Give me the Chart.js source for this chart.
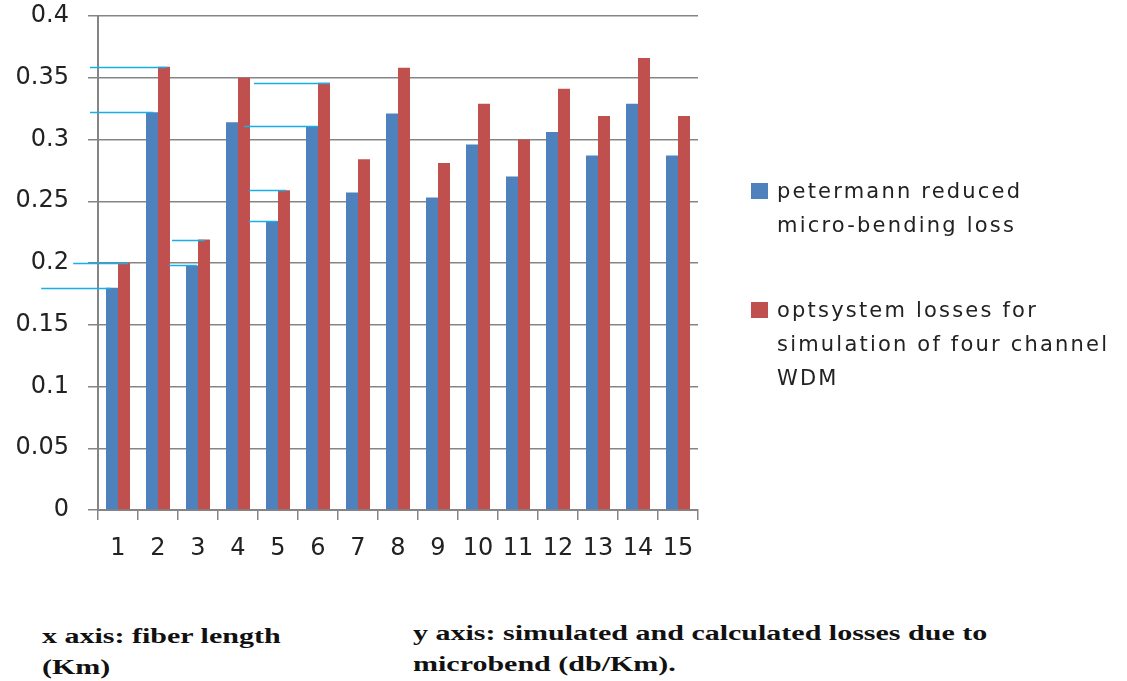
<!DOCTYPE html>
<html>
<head>
<meta charset="utf-8">
<script src="https://cdn.jsdelivr.net/npm/chart.js@4.4.1/dist/chart.umd.min.js"></script>
<style>
  html, body { margin: 0; padding: 0; background: #fff; }
  body { width: 1127px; height: 681px; position: relative; overflow: hidden; }
  #wrap { position: absolute; left: 0; top: 0; width: 1127px; height: 600px; }
  .legend { position: absolute; left: 751px; font-family: 'DejaVu Sans', sans-serif; font-size: 21px; color: #222; }
  .legend .box { position: absolute; left: 0; width: 17px; height: 16px; }
  .legend .txt { position: absolute; left: 26px; line-height: 34px; white-space: nowrap; letter-spacing: 2.2px; }
  .caption { position: absolute; font-family: 'Liberation Serif', 'Times New Roman', serif; font-weight: bold; font-size: 20px; line-height: 31px; color: #111; transform-origin: 0 0; transform: scaleX(1.5); white-space: nowrap; }
</style>
</head>
<body>
<div id="wrap"><canvas id="lossChart" width="1127" height="600"></canvas></div>
<div id="legend"></div>
<div class="caption" style="left:42px; top:621px;">x axis: fiber length<br>(Km)</div>
<div class="caption" style="left:413px; top:618px;">y axis: simulated and calculated losses due to<br>microbend (db/Km).</div>
<script>
// fiber length (Km)
const lengths = ['1', '2', '3', '4', '5', '6', '7', '8', '9', '10', '11', '12', '13', '14', '15'];
// petermann reduced micro-bending loss
const petermann = [0.18, 0.322, 0.198, 0.314, 0.234, 0.311, 0.257, 0.321, 0.253, 0.296, 0.27, 0.306, 0.287, 0.329, 0.287];
// optsystem losses
const optsystem = [0.2, 0.359, 0.219, 0.35, 0.259, 0.346, 0.284, 0.358, 0.281, 0.329, 0.3, 0.341, 0.319, 0.366, 0.319];
const seriesNames = [
  ['petermann reduced', 'micro-bending loss'],
  ['optsystem losses for', 'simulation of four channel', 'WDM']
];
const seriesColors = ['#4F81BD', '#C0504D'];
const yTicks = [0, 0.05, 0.1, 0.15, 0.2, 0.25, 0.3, 0.35, 0.4];
// hand drawn cyan guide lines: [value, from category index, to category index]
const guideLines = [
  [0.18, -1.92, -0.18], [0.2, -1.12, 0.25], [0.198, 1.27, 1.97], [0.219, 1.35, 2.17],
  [0.322, -0.7, 0.88], [0.359, -0.7, 1.22], [0.259, 3.27, 4.2], [0.234, 3.27, 3.97],
  [0.311, 3.15, 5.0], [0.346, 3.4, 5.3]
];

const guidePlugin = {
  id: 'guides',
  afterDatasetsDraw(chart) {
    const { ctx, scales: { x, y } } = chart;
    ctx.save();
    ctx.strokeStyle = '#1AAEE8';
    ctx.lineWidth = 1.5;
    guideLines.forEach(([v, a, b]) => {
      const py = Math.round(y.getPixelForValue(v)) + 0.5;
      ctx.beginPath();
      ctx.moveTo(x.getPixelForValue(a), py);
      ctx.lineTo(x.getPixelForValue(b), py);
      ctx.stroke();
    });
    ctx.restore();
  }
};

const tickFont = { family: "'DejaVu Sans', sans-serif", size: 24 };
const ctx = document.getElementById('lossChart').getContext('2d');
new Chart(ctx, {
  type: 'bar',
  data: {
    labels: lengths,
    datasets: [
      { label: seriesNames[0].join(' '), data: petermann, backgroundColor: seriesColors[0], categoryPercentage: 0.6, barPercentage: 1.0 },
      { label: seriesNames[1].join(' '), data: optsystem, backgroundColor: seriesColors[1], categoryPercentage: 0.6, barPercentage: 1.0 }
    ]
  },
  options: {
    responsive: false,
    animation: false,
    layout: { padding: { left: 0, right: 429, top: 16, bottom: 30 } },
    plugins: { legend: { display: false }, tooltip: { enabled: false } },
    scales: {
      x: {
        grid: { drawOnChartArea: false, drawTicks: true, tickLength: 10, color: '#858585', lineWidth: 1.5, offset: true },
        border: { color: '#858585', width: 2 },
        ticks: { color: '#222', font: tickFont, padding: 14, maxRotation: 0, autoSkip: false },
        afterFit: s => { s.height = 60; s.paddingLeft = 0; s.paddingRight = 0; }
      },
      y: {
        min: 0, max: 0.4,
        afterBuildTicks: s => { s.ticks = yTicks.map(v => ({ value: v })); },
        grid: { color: '#858585', lineWidth: 1.5, tickLength: 10 },
        border: { color: '#858585', width: 2 },
        ticks: { color: '#222', font: tickFont, padding: 19, callback: v => String(parseFloat(v.toFixed(2))) },
        afterFit: s => { s.width = 98; s.paddingTop = 0; s.paddingBottom = 0; }
      }
    }
  },
  plugins: [guidePlugin]
});

// legend built from the series
const legend = document.getElementById('legend');
const legendTops = [174, 293];
seriesNames.forEach((lines, i) => {
  const item = document.createElement('div');
  item.className = 'legend';
  item.style.top = legendTops[i] + 'px';
  item.innerHTML = '<div class="box" style="top:9px;background:' + seriesColors[i] + '"></div>' +
    '<div class="txt">' + lines.join('<br>') + '</div>';
  legend.appendChild(item);
});
</script>
</body>
</html>
